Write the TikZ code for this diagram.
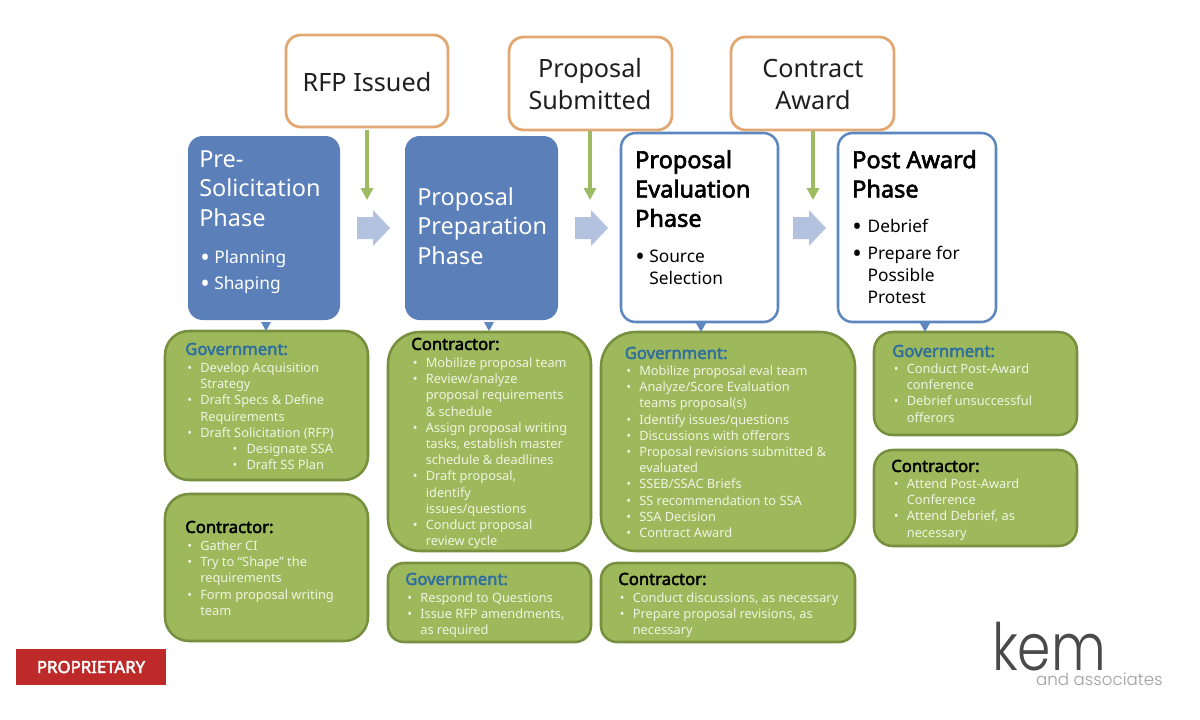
\documentclass[tikz,border=0pt]{standalone}
\usepackage{fontspec}
\setmainfont{Noto Sans}
\newfontfamily\bff{Noto Sans}[FakeBold=2.6]
\newfontfamily\logofont{Poppins Light}
\usetikzlibrary{arrows.meta,calc}
\definecolor{orangeb}{HTML}{E2A873}
\definecolor{bluef}{HTML}{5A7FB9}
\definecolor{blueb}{HTML}{5F87BF}
\definecolor{greenf}{HTML}{9DB95C}
\definecolor{greenb}{HTML}{76903F}
\definecolor{arrowg}{HTML}{9DBB61}
\definecolor{blockb}{HTML}{B3C3DF}
\definecolor{govblue}{HTML}{2F6E9E}
\definecolor{bodyc}{HTML}{F0F4E2}
\definecolor{propred}{HTML}{BE2A2A}
\definecolor{kemdark}{HTML}{4A4A4A}
\definecolor{kemgray}{HTML}{A0A0A0}
\newcommand{\mybox}[6]{%
  \pgfmathsetmacro{\bw}{(#5-#3)*0.75}%
  \pgfmathsetmacro{\bh}{(#6-#4)*0.75}%
  \node[#1,anchor=north west,minimum width=\bw pt,minimum height=\bh pt] (#2) at (#3,#4) {};}
\newcommand{\bul}[1]{\makebox[9.8pt][l]{•}#1}
\newcommand{\cont}[1]{\hspace*{9.8pt}#1}
\newcommand{\subbul}[1]{\hspace*{34pt}\makebox[10.5pt][l]{•}#1}
\newcommand{\bigb}[2]{\makebox[#1][l]{\raisebox{-2.2pt}{\fontsize{19pt}{19pt}\selectfont •}}#2}
\tikzset{
  x=0.75pt,y=-0.75pt,
  orangebox/.style={draw=orangeb,line width=2.1pt,fill=white,rounded corners=11pt,inner sep=0pt,outer sep=0pt},
  bluebox/.style={fill=bluef,rounded corners=11pt,inner sep=0pt,outer sep=0pt},
  outlinebox/.style={draw=blueb,line width=1.9pt,fill=white,rounded corners=11pt,inner sep=0pt,outer sep=0pt},
  greenbox/.style={draw=greenb,line width=1.9pt,fill=greenf,rounded corners=#1,inner sep=0pt,outer sep=0pt},
  eventtext/.style={font=\fontsize{18.9pt}{24pt}\selectfont,align=center,text=black!88,inner sep=0pt},
  phasewhite/.style={font=\fontsize{17.6pt}{22.3pt}\selectfont,align=left,text=white,anchor=north west,inner sep=0pt},
  phaseblack/.style={font=\fontsize{17.6pt}{22pt}\bff,align=left,text=black,anchor=north west,inner sep=0pt},
  subwhite/.style={font=\fontsize{13pt}{19.5pt}\selectfont,align=left,text=white,anchor=north west,inner sep=0pt},
  subblack/.style={font=\fontsize{13pt}{16.5pt}\selectfont,align=left,text=black,anchor=north west,inner sep=0pt},
  govtitle/.style={font=\fontsize{12.5pt}{14pt}\bff,text=govblue,anchor=west,inner sep=0pt},
  contitle/.style={font=\fontsize{12.5pt}{14pt}\bff,text=black,anchor=west,inner sep=0pt},
  bodytext/.style={font=\fontsize{9.6pt}{12.15pt}\selectfont,text=bodyc,align=left,anchor=north west,inner sep=0pt},
  dropline/.style={draw=arrowg,line width=2.6pt,-{Triangle[width=9pt,length=9pt]}},
  blockarrow/.style={fill=blockb},
  tinytip/.style={fill=blueb},
}
\begin{document}
\begin{tikzpicture}
\useasboundingbox (0,0) rectangle (1200,719);
\fill[white] (0,0) rectangle (1200,719);

% event boxes
\mybox{orangebox}{rfp}{286}{35}{448}{127}
\mybox{orangebox}{subm}{509}{37}{672}{130}
\mybox{orangebox}{award}{731}{37}{894}{130}
\node[eventtext] (rfpt) at (367,82.5) {RFP Issued};
\node[eventtext] (submt) at (590,84.5) {Proposal\\Submitted};
\node[eventtext] (awardt) at (813,84.5) {Contract\\Award};

% drop arrows
\coordinate (d1) at (rfp.south |- 0,200);
\coordinate (d2) at (590,200);
\coordinate (d3) at (813,200);
\draw[dropline] (367,130) -- (d1);
\draw[dropline] (590,131) -- (d2);
\draw[dropline] (813,131) -- (d3);

% phase boxes
\mybox{bluebox}{pre}{188}{136}{340}{320}
\mybox{bluebox}{prep}{405}{136}{558}{320}
\mybox{outlinebox}{eval}{621}{133}{778}{322}
\mybox{outlinebox}{post}{838}{133}{996}{322}

\node[phasewhite] (pret) at (199,150) {Pre-\\Solicitation\\Phase};
\node[subwhite] (pres) at (200,250) {\bigb{10.5pt}{Planning}\\\bigb{10.5pt}{Shaping}};
\node[phasewhite] (prept) at (417,187) {Proposal\\Preparation\\Phase};
\node[phaseblack] (evalt) at (635,150) {Proposal\\Evaluation\\Phase};
\node[subblack] (evals) at (635,250) {\bigb{10.5pt}{Source}\\\hspace*{10.5pt}Selection};
\node[phaseblack] (postt) at (852,150) {Post Award\\Phase};
\node[subblack] (posts) at (852,219) {\bigb{11.5pt}{Debrief}\\[3.75pt]\bigb{11.5pt}{Prepare for}\\\hspace*{11.5pt}Possible\\\hspace*{11.5pt}Protest};

% block arrows
\foreach \ax in {357,575,793}{
  \fill[blockarrow] (\ax,217) -- ++(16,0) -- ++(0,-7) -- ++(17,18) -- ++(-17,18) -- ++(0,-7) -- ++(-16,0) -- cycle;
}

% green boxes
\mybox{greenbox=18pt}{g1}{165}{331}{368}{480}
\mybox{greenbox=18pt}{c1}{165}{494}{368}{641}
\mybox{greenbox=24pt}{c2}{388}{332}{591}{551}
\mybox{greenbox=12pt}{g2}{388}{563}{591}{642}
\mybox{greenbox=26pt}{g3}{601}{332}{855}{551}
\mybox{greenbox=12pt}{c3}{601}{563}{855}{642}
\mybox{greenbox=14pt}{g4}{874}{332}{1077}{435}
\mybox{greenbox=14pt}{c4}{874}{450}{1077}{546}

% tiny pointers
\fill[tinytip] ($(pre.south)+(2,2)$) ++(-5,0) -- ++(10,0) -- ++(-5,9) -- cycle;
\fill[tinytip] ($(prep.south)+(7.5,2)$) ++(-5,0) -- ++(10,0) -- ++(-5,9) -- cycle;
\fill[tinytip] ($(eval.south)+(1.5,1)$) ++(-5,0) -- ++(10,0) -- ++(-5,9) -- cycle;
\fill[tinytip] ($(post.south)+(8,1)$) ++(-5,0) -- ++(10,0) -- ++(-5,9) -- cycle;

% green box texts
\node[govtitle] (g1t) at (185,349) {Government:};
\node[bodytext] (g1b) at (187,362.5) {\bul{Develop Acquisition}\\\cont{Strategy}\\\bul{Draft Specs \& Define}\\\cont{Requirements}\\\bul{Draft Solicitation (RFP)}\\\subbul{Designate SSA}\\\subbul{Draft SS Plan}};

\node[contitle] (c1t) at (185,527) {Contractor:};
\node[bodytext] (c1b) at (187,540.5) {\bul{Gather CI}\\\bul{Try to “Shape” the}\\\cont{requirements}\\\bul{Form proposal writing}\\\cont{team}};

\node[contitle] (c2t) at (411,344) {Contractor:};
\node[bodytext] (c2b) at (412.5,357.5) {\bul{Mobilize proposal team}\\\bul{Review/analyze}\\\cont{proposal requirements}\\\cont{\& schedule}\\\bul{Assign proposal writing}\\\cont{tasks, establish master}\\\cont{schedule \& deadlines}\\\bul{Draft proposal,}\\\cont{identify}\\\cont{issues/questions}\\\bul{Conduct proposal}\\\cont{review cycle}};

\node[govtitle] (g2t) at (405,579) {Government:};
\node[bodytext] (g2b) at (407,592) {\bul{Respond to Questions}\\\bul{Issue RFP amendments,}\\\cont{as required}};

\node[govtitle] (g3t) at (624.5,353) {Government:};
\node[bodytext] (g3b) at (626,365.5) {\bul{Mobilize proposal eval team}\\\bul{Analyze/Score Evaluation}\\\cont{teams proposal(s)}\\\bul{Identify issues/questions}\\\bul{Discussions with offerors}\\\bul{Proposal revisions submitted \&}\\\cont{evaluated}\\\bul{SSEB/SSAC Briefs}\\\bul{SS recommendation to SSA}\\\bul{SSA Decision}\\\bul{Contract Award}};

\node[contitle] (c3t) at (618,579) {Contractor:};
\node[bodytext] (c3b) at (619.5,592) {\bul{Conduct discussions, as necessary}\\\bul{Prepare proposal revisions, as}\\\cont{necessary}};

\node[govtitle] (g4t) at (892,351) {Government:};
\node[bodytext] (g4b) at (893.5,363.5) {\bul{Conduct Post-Award}\\\cont{conference}\\\bul{Debrief unsuccessful}\\\cont{offerors}};

\node[contitle] (c4t) at (891,466) {Contractor:};
\node[bodytext] (c4b) at (893.5,478.5) {\bul{Attend Post-Award}\\\cont{Conference}\\\bul{Attend Debrief, as}\\\cont{necessary}};

% proprietary tag
\mybox{fill=propred,inner sep=0pt,outer sep=0pt}{tag}{16}{649}{166}{685}
\node[font=\fontsize{12.6pt}{14pt}\bff,text=white,inner sep=0pt] (tagt) at (tag.center) {PROPRIETARY};

% logo
\node[font=\fontsize{49pt}{50pt}\logofont,text=kemdark,anchor=base west,inner sep=0pt] (kem) at (992,670) {\scalebox{0.82}[1]{kem}};
\node[font=\fontsize{12.5pt}{14pt}\logofont,text=kemgray,anchor=base east,inner sep=0pt] (assoc) at (1163,685.5) {and associates};
\end{tikzpicture}
\end{document}
